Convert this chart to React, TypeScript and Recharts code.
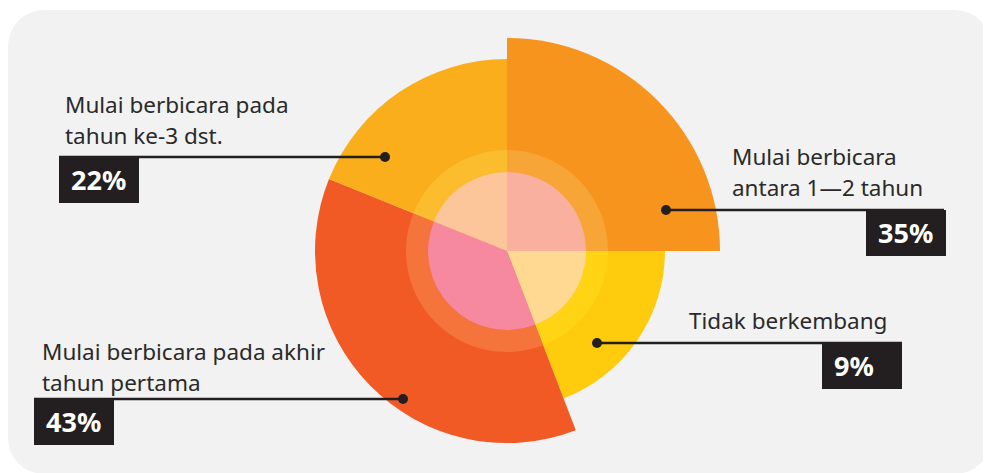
import { Cell, Pie, PieChart } from "recharts";

// slices, clockwise from 12 o'clock
const categories = [
  "Mulai berbicara antara 1—2 tahun",
  "Tidak berkembang",
  "Mulai berbicara pada akhir tahun pertama",
  "Mulai berbicara pada tahun ke-3 dst.",
];
const shares = [35, 9, 43, 22];
// angular sweep of each slice (degrees) as drawn in the picture
const sweeps = [90, 69, 133, 68];

const OUTER = ["#F7941E", "#FFCB0D", "#F15A24", "#FAAE1C"];
const RING = ["#F8A537", "#FFD415", "#F4743C", "#FBBD2E"];
const CORE = ["#F9B09E", "#FFD891", "#F6889F", "#FCC69A"];
const RADIUS = [213, 158, 192, 192];

const W = 983;
const H = 464;
const CX = 499;
const CY = 241;
const INK = "#231F20";

const sliceData = categories.map((name, i) => ({ name, sweep: sweeps[i], share: shares[i] }));

// label layout (in box coordinates)
const labels = [
  { text: ["Mulai berbicara", "antara 1—2 tahun"], tx: 724, ty: 131, lineY: 200, x1: 658, x2: 936, boxX: 858, align: "right" },
  { text: ["Tidak berkembang"], tx: 681, ty: 295, lineY: 333, x1: 589, x2: 894, boxX: 814, align: "right" },
  { text: ["Mulai berbicara pada akhir", "tahun pertama"], tx: 34, ty: 326, lineY: 389, x1: 26, x2: 395, boxX: 26, align: "left" },
  { text: ["Mulai berbicara pada", "tahun ke-3 dst."], tx: 57, ty: 79, lineY: 147, x1: 51, x2: 377, boxX: 51, align: "left" },
];

export default function App() {
  return (
    <div
      style={{
        position: "relative",
        marginTop: 2,
        width: W,
        height: H,
        background: "#F2F2F2",
        borderRadius: 36,
        fontFamily: "'Noto Sans', sans-serif",
        overflow: "hidden",
      }}
    >
      <PieChart width={W} height={H} margin={{ top: 0, right: 0, bottom: 0, left: 0 }}>
        {sliceData.map((_, k) => (
          <Pie
            key={`outer-${k}`}
            data={sliceData}
            dataKey="sweep"
            cx={CX}
            cy={CY}
            innerRadius={0}
            outerRadius={RADIUS[k]}
            startAngle={90}
            endAngle={-270}
            stroke="none"
            isAnimationActive={false}
          >
            {sliceData.map((_, i) => (
              <Cell key={i} fill={i === k ? OUTER[i] : "transparent"} />
            ))}
          </Pie>
        ))}
        <Pie
          data={sliceData}
          dataKey="sweep"
          cx={CX}
          cy={CY}
          innerRadius={79}
          outerRadius={101}
          startAngle={90}
          endAngle={-270}
          stroke="none"
          isAnimationActive={false}
        >
          {sliceData.map((_, i) => (
            <Cell key={i} fill={RING[i]} />
          ))}
        </Pie>
        <Pie
          data={sliceData}
          dataKey="sweep"
          cx={CX}
          cy={CY}
          innerRadius={0}
          outerRadius={79}
          startAngle={90}
          endAngle={-270}
          stroke="none"
          isAnimationActive={false}
        >
          {sliceData.map((_, i) => (
            <Cell key={i} fill={CORE[i]} />
          ))}
        </Pie>
      </PieChart>

      <svg width={W} height={H} style={{ position: "absolute", left: 0, top: 0, pointerEvents: "none" }}>
        {labels.map((l, i) => {
          const dotX = l.align === "left" ? l.x2 : l.x1;
          return (
            <g key={i}>
              <line x1={l.x1} x2={l.x2} y1={l.lineY} y2={l.lineY} stroke={INK} strokeWidth={2.5} />
              <circle cx={dotX} cy={l.lineY} r={5} fill={INK} />
            </g>
          );
        })}
      </svg>

      {labels.map((l, i) => (
        <div key={i}>
          <div
            style={{
              position: "absolute",
              left: l.tx,
              top: l.ty,
              fontSize: 22.5,
              lineHeight: "31px",
              color: "#2A2A2A",
              whiteSpace: "nowrap",
            }}
          >
            {l.text.map((t) => (
              <div key={t}>{t}</div>
            ))}
          </div>
          <div
            style={{
              position: "absolute",
              left: l.boxX,
              top: l.lineY,
              width: 80,
              height: 46,
              background: INK,
              color: "#fff",
              fontWeight: 700,
              fontSize: 27,
              lineHeight: "46px",
              paddingLeft: 12,
              boxSizing: "border-box",
            }}
          >
            {shares[i]}%
          </div>
        </div>
      ))}
    </div>
  );
}
